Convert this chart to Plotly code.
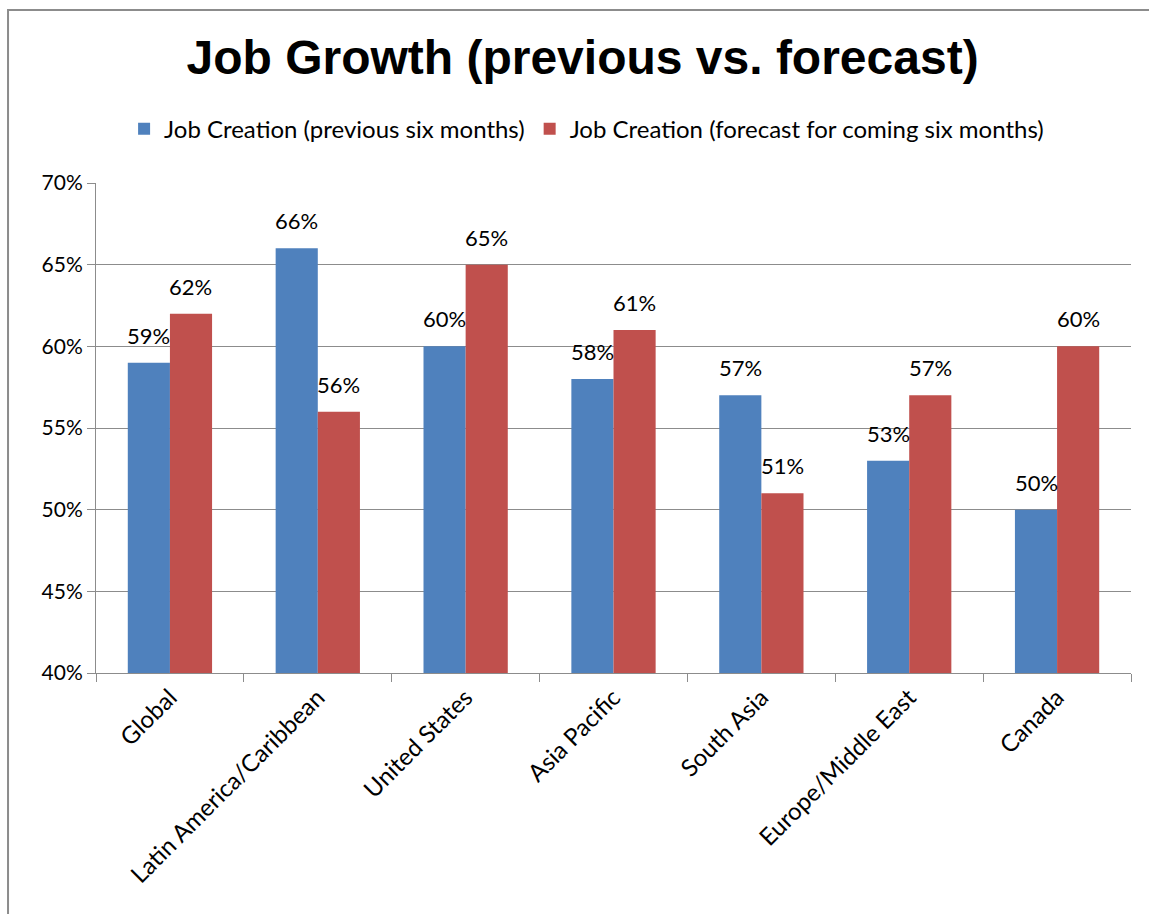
import plotly.graph_objects as go

categories = ["Global", "Latin America/Caribbean", "United States", "Asia Pacific",
              "South Asia", "Europe/Middle East", "Canada"]
previous = [59, 66, 60, 58, 57, 53, 50]
forecast = [62, 56, 65, 61, 51, 57, 60]
series_names = ["Job Creation (previous six months)",
                "Job Creation (forecast for coming six months)"]
tick_vals = [40, 45, 50, 55, 60, 65, 70]
tick_text = ["40%", "45%", "50%", "55%", "60%", "65%", "70%"]

FONT = "Lato"
BLUE = "#4F81BD"
RED = "#C0504D"

fig = go.Figure()
fig.add_trace(go.Bar(x=categories, y=previous, name=series_names[0],
                     marker=dict(color=BLUE, line=dict(width=0))))
fig.add_trace(go.Bar(x=categories, y=forecast, name=series_names[1],
                     marker=dict(color=RED, line=dict(width=0))))

annotations = []
for vals, shift in ((previous, -21), (forecast, 21)):
    for c, v in zip(categories, vals):
        annotations.append(dict(x=c, y=v, xref="x", yref="y", text=f"{v}%",
                                showarrow=False, xshift=shift, yshift=12,
                                yanchor="bottom", xanchor="center",
                                font=dict(family=FONT, size=22, color="black")))

fig.update_layout(
    width=1149, height=914,
    margin=dict(l=96, r=18, t=183, b=241),
    paper_bgcolor="white", plot_bgcolor="white",
    barmode="group", bargap=0.43, bargroupgap=0,
    font=dict(family=FONT, size=21, color="black"),
    title=dict(text="<b>Job Growth (previous vs. forecast)</b>",
               font=dict(family="Liberation Sans", size=48, color="black"),
               x=0.507, xanchor="center", y=0.937, yanchor="middle"),
    legend=dict(orientation="h", x=0.474, xanchor="center", y=1.11, yanchor="middle",
                font=dict(family=FONT, size=24), itemwidth=30, traceorder="normal",
                bgcolor="rgba(0,0,0,0)"),
    showlegend=True,
    annotations=annotations,
)
fig.update_yaxes(range=[40, 70], tickvals=tick_vals, ticktext=tick_text,
                 showgrid=True, gridcolor="#8c8c8c", gridwidth=1,
                 showline=True, linecolor="#8c8c8c", linewidth=1,
                 ticks="outside", ticklen=8, tickcolor="#8c8c8c",
                 tickfont=dict(family=FONT, size=21), zeroline=False)
fig.update_xaxes(tickangle=-45, showline=True, linecolor="#8c8c8c", linewidth=1,
                 ticks="outside", ticklen=8, tickcolor="#8c8c8c",
                 tickson="boundaries", tickfont=dict(family=FONT, size=24))

fig.add_shape(type="rect", xref="paper", yref="paper",
              x0=-0.085, x1=1.05, y0=-0.6, y1=1.353,
              line=dict(color="#8c8c8c", width=2), fillcolor="rgba(0,0,0,0)")

fig.write_html("out.html")
